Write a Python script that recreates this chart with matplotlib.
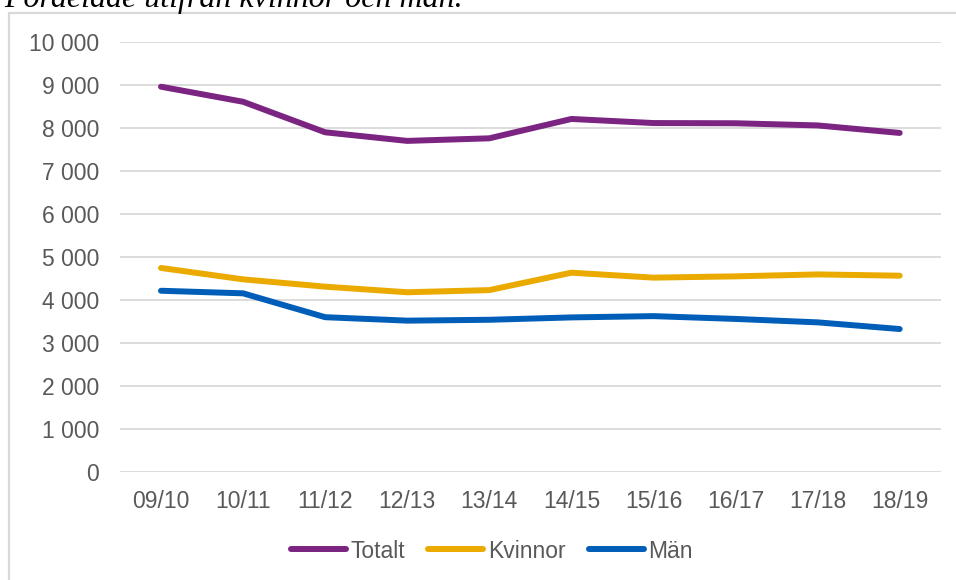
import matplotlib as mpl
import matplotlib.pyplot as plt
from matplotlib.patches import Rectangle
from matplotlib.ticker import FuncFormatter

mpl.rcParams['font.family'] = ['Liberation Sans', 'DejaVu Sans']

ar = ['09/10', '10/11', '11/12', '12/13', '13/14', '14/15', '15/16', '16/17', '17/18', '18/19']
totalt = [8960, 8610, 7900, 7700, 7760, 8210, 8115, 8110, 8060, 7885]
kvinnor = [4745, 4480, 4310, 4180, 4230, 4635, 4520, 4550, 4595, 4565]
man = [4215, 4155, 3600, 3520, 3540, 3595, 3625, 3560, 3480, 3325]

serier = [('Totalt', totalt, '#7B2482'), ('Kvinnor', kvinnor, '#EBAA00'), ('Män', man, '#005EB8')]

fig = plt.figure(figsize=(9.56, 5.8), dpi=100)
ax = fig.add_axes([0.1255, 0.1862, 0.8585, 0.7414])

x = range(len(ar))
for namn, v, c in serier:
    ax.plot(x, v, color=c, lw=4.3, label=namn, solid_capstyle='round', solid_joinstyle='round')

ax.set_xlim(-0.5, len(ar) - 0.5)
ax.set_ylim(0, 10000)
ax.set_yticks(range(0, 10001, 1000))
ax.yaxis.set_major_formatter(FuncFormatter(lambda v, p: f'{int(v):,}'.replace(',', ' ')))
ax.set_xticks(list(x))
ax.set_xticklabels(ar)
ax.grid(axis='y', color='#d9d9d9', lw=1.3)
ax.set_axisbelow(True)
for s in ax.spines.values():
    s.set_visible(False)
ax.tick_params(axis='both', length=0, labelsize=16.5, colors='#595959')
ax.tick_params(axis='y', pad=15)
ax.tick_params(axis='x', pad=13)

# ram runt diagrammet
fig.patches.append(Rectangle((9 / 956, -0.05), 1.0, 1 - 13 / 580 + 0.05, transform=fig.transFigure,
                             fill=False, ec='#d9d9d9', lw=1.6))

fig.text(4 / 956, 1 - 7 / 580, 'Fördelade utifrån kvinnor och män.', family='Liberation Serif',
         style='italic', fontsize=23, va='baseline', ha='left')

fig.legend(loc='center', bbox_to_anchor=(492 / 956, 1 - 551 / 580), ncol=3, frameon=False,
           fontsize=16.5, labelcolor='#595959', handlelength=2.4, handletextpad=0.2, columnspacing=1.0)

plt.savefig('out.png', dpi=100)
